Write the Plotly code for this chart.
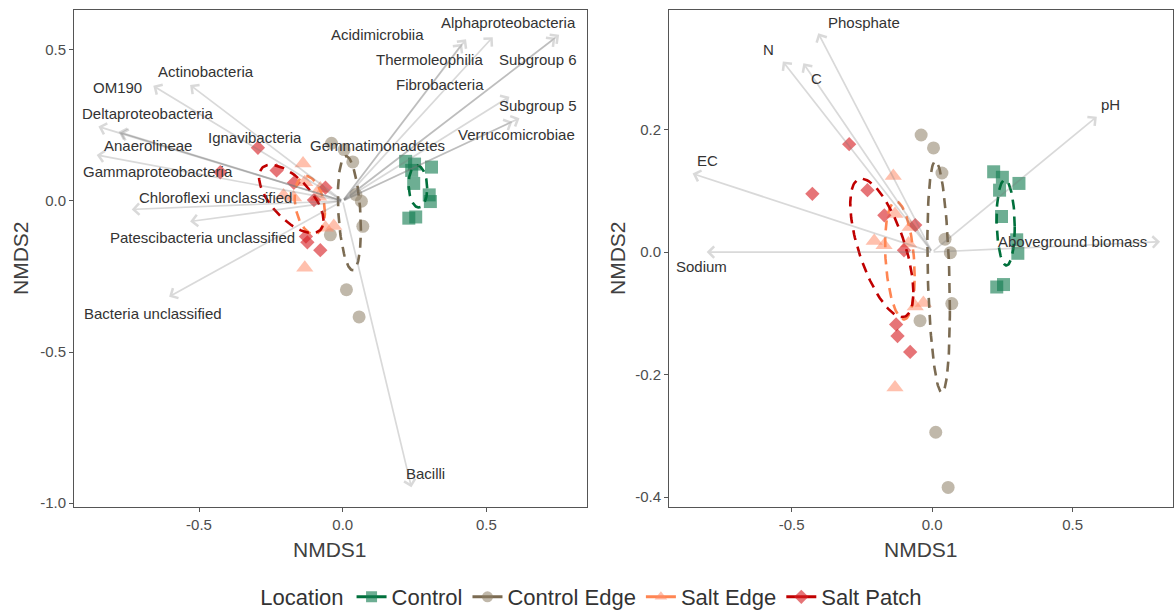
import numpy as np
import plotly.graph_objects as go

# ---------------- data ----------------
groups = ["Control", "Control Edge", "Salt Edge", "Salt Patch"]

ctrl_x = [0.219, 0.250, 0.309, 0.240, 0.247, 0.301, 0.305, 0.230, 0.254]
ctrl_y = [0.131, 0.122, 0.112, 0.101, 0.058, 0.020, -0.002, -0.057, -0.053]

cedge_x = [-0.039, 0.005, 0.035, 0.046, 0.065, 0.070, -0.043, 0.013, 0.057]
cedge_y = [0.191, 0.170, 0.129, 0.021, -0.001, -0.084, -0.112, -0.294, -0.384]

sedge_x = [-0.138, -0.132, -0.206, -0.171, -0.078, -0.084, -0.060, -0.031, -0.132]
sedge_y = [0.124, 0.062, 0.018, 0.011, 0.041, 0.014, -0.089, -0.083, -0.221]

spatch_x = [-0.295, -0.426, -0.230, -0.170, -0.060, -0.100, -0.128, -0.123, -0.078]
spatch_y = [0.176, 0.095, 0.101, 0.060, 0.044, 0.003, -0.118, -0.137, -0.163]

species = ["Acidimicrobiia", "Alphaproteobacteria", "Thermoleophilia", "Subgroup 6",
           "Fibrobacteria", "Subgroup 5", "Verrucomicrobiae", "Gemmatimonadetes",
           "OM190", "Actinobacteria", "Deltaproteobacteria", "Anaerolineae",
           "Ignavibacteria", "Gammaproteobacteria", "Chloroflexi unclassified",
           "Patescibacteria unclassified", "Bacteria unclassified", "Bacilli"]
sp_x = [0.429, 0.753, 0.522, 0.740, 0.415, 0.580, 0.615, 0.590,
        -0.659, -0.531, -0.850, -0.780, -0.775, -0.856, -0.734, -0.531, -0.604, 0.239]
sp_y = [0.535, 0.550, 0.542, 0.540, 0.520, 0.345, 0.274, 0.262,
        0.381, 0.384, 0.246, 0.229, 0.226, 0.152, -0.028, -0.068, -0.317, -0.948]
sp_lab_x = [0.122, 0.578, 0.303, 0.678, 0.337, 0.678, 0.605, 0.122,
            -0.783, -0.476, -0.678, -0.678, -0.306, -0.643, -0.442, -0.487, -0.661, 0.289]
sp_lab_y = [0.550, 0.589, 0.467, 0.467, 0.384, 0.315, 0.219, 0.182,
            0.374, 0.430, 0.288, 0.182, 0.209, 0.096, 0.013, -0.122, -0.371, -0.902]

env = ["Phosphate", "N", "C", "EC", "Sodium", "pH", "Aboveground biomass"]
env_x = [-0.405, -0.531, -0.458, -0.852, -0.802, 0.586, 0.811]
env_y = [0.357, 0.311, 0.308, 0.128, 0.000, 0.221, 0.017]
env_lab_x = [-0.242, -0.582, -0.413, -0.800, -0.820, 0.636, 0.500]
env_lab_y = [0.374, 0.331, 0.284, 0.150, -0.024, 0.240, 0.017]

x_ticks = [-0.5, 0.0, 0.5]
x_ticktext = ["-0.5", "0.0", "0.5"]
y1_ticks = [-1.0, -0.5, 0.0, 0.5]
y1_ticktext = ["-1.0", "-0.5", "0.0", "0.5"]
y2_ticks = [-0.4, -0.2, 0.0, 0.2]
y2_ticktext = ["-0.4", "-0.2", "0.0", "0.2"]

# ---------------- styles ----------------
FONT = "Liberation Sans, Arial, sans-serif"
line_cols = ["#00703C", "#7B6B52", "#FF8552", "#C00000"]
mark_cols = ["rgba(20,125,80,0.62)", "rgba(140,125,100,0.55)",
             "rgba(255,140,105,0.55)", "rgba(215,30,35,0.62)"]
symbols = ["square", "circle", "triangle-up", "diamond"]
msizes = [13, 13, 15, 11]
pts = [(ctrl_x, ctrl_y), (cedge_x, cedge_y), (sedge_x, sedge_y), (spatch_x, spatch_y)]


def sd_ellipse(x, y, n=120):
    xy = np.column_stack([x, y])
    c = xy.mean(axis=0)
    cov = np.cov(xy.T, bias=True)
    L = np.linalg.cholesky(cov)
    t = np.linspace(0, 2 * np.pi, n)
    circ = np.vstack([np.cos(t), np.sin(t)])
    e = (L @ circ).T + c
    return e[:, 0], e[:, 1]


fig = go.Figure()

for panel, (xa, ya) in enumerate([("x", "y"), ("x2", "y2")]):
    for g in range(4):
        px_, py_ = pts[g]
        fig.add_trace(go.Scatter(x=px_, y=py_, mode="markers", xaxis=xa, yaxis=ya,
                                 marker=dict(symbol=symbols[g], size=msizes[g], color=mark_cols[g],
                                             line=dict(width=0)),
                                 showlegend=False, hoverinfo="skip"))
    for g in range(4):
        px_, py_ = pts[g]
        ex, ey = sd_ellipse(px_, py_)
        fig.add_trace(go.Scatter(x=ex, y=ey, mode="lines", xaxis=xa, yaxis=ya,
                                 line=dict(color=line_cols[g], width=2.6, dash="10px,7px"),
                                 showlegend=False, hoverinfo="skip"))

# legend entries
for g in range(4):
    fig.add_trace(go.Scatter(x=[None], y=[None], mode="lines+markers", name=groups[g],
                             line=dict(color=line_cols[g], width=3),
                             marker=dict(symbol=symbols[g], size=11, color=mark_cols[g])))

ARROW_COL = "rgba(120,120,120,0.28)"
TXT_COL = "#333333"
LAB_SIZE = 15
annotations = []
for i, name in enumerate(species):
    annotations.append(dict(x=sp_x[i], y=sp_y[i], ax=0, ay=0, xref="x", yref="y",
                            axref="x", ayref="y", text="", showarrow=True,
                            arrowhead=4, arrowsize=1.3, arrowwidth=1.7, arrowcolor=ARROW_COL))
for i, name in enumerate(species):
    annotations.append(dict(x=sp_lab_x[i], y=sp_lab_y[i], xref="x", yref="y", text=name,
                            showarrow=False, font=dict(family=FONT, size=LAB_SIZE, color=TXT_COL)))
for i, name in enumerate(env):
    annotations.append(dict(x=env_x[i], y=env_y[i], ax=0, ay=0, xref="x2", yref="y2",
                            axref="x2", ayref="y2", text="", showarrow=True,
                            arrowhead=4, arrowsize=1.3, arrowwidth=1.7, arrowcolor=ARROW_COL))
for i, name in enumerate(env):
    annotations.append(dict(x=env_lab_x[i], y=env_lab_y[i], xref="x2", yref="y2", text=name,
                            showarrow=False, font=dict(family=FONT, size=LAB_SIZE, color=TXT_COL)))

# axis titles
W, H = 1174, 611
for xc in [330, 921]:
    annotations.append(dict(x=xc / W, y=1 - 549 / H, xref="paper", yref="paper", text="NMDS1",
                            xanchor="center", yanchor="middle",
                            showarrow=False, font=dict(family=FONT, size=21, color="#404040")))
for xc in [20, 617]:
    annotations.append(dict(x=xc / W, y=1 - 258 / H, xref="paper", yref="paper", text="NMDS2",
                            xanchor="center", yanchor="middle",
                            textangle=-90, showarrow=False,
                            font=dict(family=FONT, size=21, color="#404040")))

axis_common = dict(showgrid=False, zeroline=False, showline=True, mirror=True,
                   linecolor="#555555", linewidth=1, ticks="outside", ticklen=4,
                   tickcolor="#555555", automargin=False,
                   tickfont=dict(family=FONT, size=15, color="#4D4D4D"))

top, bottom = 10, 507
fig.update_layout(
    width=W, height=H,
    margin=dict(l=0, r=0, t=0, b=0, autoexpand=False),
    paper_bgcolor="white", plot_bgcolor="white",
    xaxis=dict(domain=[74 / W, 587 / W], range=[-0.935, 0.85], tickvals=x_ticks,
               ticktext=x_ticktext, anchor="y", **axis_common),
    yaxis=dict(domain=[1 - bottom / H, 1 - top / H], range=[-1.013, 0.632], tickvals=y1_ticks,
               ticktext=y1_ticktext, anchor="x", **axis_common),
    xaxis2=dict(domain=[669 / W, 1173 / W], range=[-0.936, 0.857], tickvals=x_ticks,
                ticktext=x_ticktext, anchor="y2", **axis_common),
    yaxis2=dict(domain=[1 - bottom / H, 1 - top / H], range=[-0.416, 0.395], tickvals=y2_ticks,
                ticktext=y2_ticktext, anchor="x2", **axis_common),
    annotations=annotations,
    legend=dict(orientation="h", x=0.505, xanchor="center", y=1 - 597 / H, yanchor="middle",
                title=dict(text="Location", font=dict(family=FONT, size=22, color="#333333")),
                font=dict(family=FONT, size=22, color="#333333"), itemwidth=30),
    showlegend=True,
)

fig.write_html("out.html", config={"displayModeBar": False},
               post_script="document.body.style.margin='0px';")
